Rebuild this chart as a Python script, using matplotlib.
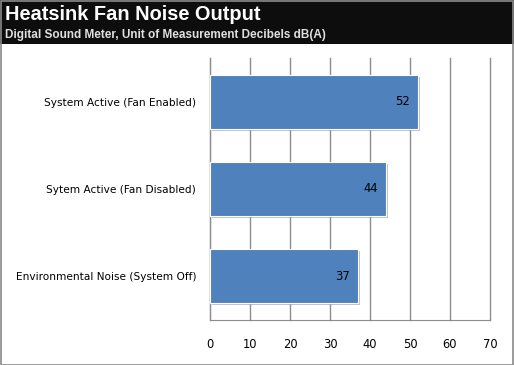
import matplotlib
matplotlib.use("Agg")
import matplotlib.pyplot as plt
from matplotlib.patches import Rectangle
import matplotlib.patheffects as pe

categories = ["Environmental Noise (System Off)", "Sytem Active (Fan Disabled)", "System Active (Fan Enabled)"]
values = [37, 44, 52]
xticks = [0, 10, 20, 30, 40, 50, 60, 70]

W, H = 514, 365
fig = plt.figure(figsize=(W / 100, H / 100), dpi=100)
fig.patch.set_facecolor("white")

# header band
fig.patches.append(Rectangle((0, 1 - 44 / H), 1, 44 / H, transform=fig.transFigure,
                             facecolor="#0d0d0d", edgecolor="none", zorder=0))
# outer border
fig.patches.append(Rectangle((0.5 / W, 0.5 / H), 1 - 2 / W, 1 - 1.5 / H, transform=fig.transFigure,
                             facecolor="none", edgecolor="#8a8a8a", lw=1.2, zorder=5))

t1 = fig.text(5 / W, 1 - 20.5 / H, "Heatsink Fan Noise Output", color="white", fontsize=14,
              fontweight="bold", family="Liberation Sans", va="baseline", ha="left")
t2 = fig.text(5 / W, 1 - 38 / H, "Digital Sound Meter, Unit of Measurement Decibels dB(A)",
              color="#e0e0e0", fontsize=7.5, fontweight="bold", family="Liberation Sans",
              va="baseline", ha="left")

ax = fig.add_axes([210 / W, 45 / H, 280 / W, 262 / H])
ypos = list(range(len(categories)))
bars = ax.barh(ypos, values, height=0.62, color="#4f81bd", edgecolor="white", lw=0.8, zorder=3)
for b in bars:
    b.set_path_effects([pe.SimplePatchShadow(offset=(1.5, -1.5), shadow_rgbFace="#999999", alpha=0.6),
                        pe.Normal()])
for y, v in zip(ypos, values):
    ax.text(v - 2.0, y, str(v), ha="right", va="center", fontsize=8.3, color="black",
            family="DejaVu Sans", zorder=4)

ax.set_xlim(0, 70)
ax.set_ylim(-0.5, len(categories) - 0.5)
ax.set_xticks(xticks)
ax.set_xticklabels([str(t) for t in xticks])
ax.set_yticks(ypos)
ax.set_yticklabels(categories)
ax.tick_params(axis="x", length=0, pad=13, labelsize=8.3)
ax.tick_params(axis="y", length=0, pad=10, labelsize=7.6)
ax.xaxis.grid(True, color="#8c8c8c", lw=1, zorder=0)
for gl in ax.get_xgridlines():
    gl.set_clip_on(False)
ax.set_axisbelow(True)
for s in ["top", "right"]:
    ax.spines[s].set_visible(False)
ax.spines["left"].set_color("#8c8c8c")
ax.spines["bottom"].set_color("#8c8c8c")

# fit title widths to the reference
fig.canvas.draw()
r = fig.canvas.get_renderer()
for t, target in [(t1, 257), (t2, 318)]:
    w = t.get_window_extent(r).width
    t.set_fontsize(t.get_fontsize() * target / w)

fig.savefig("out.png", dpi=100)
